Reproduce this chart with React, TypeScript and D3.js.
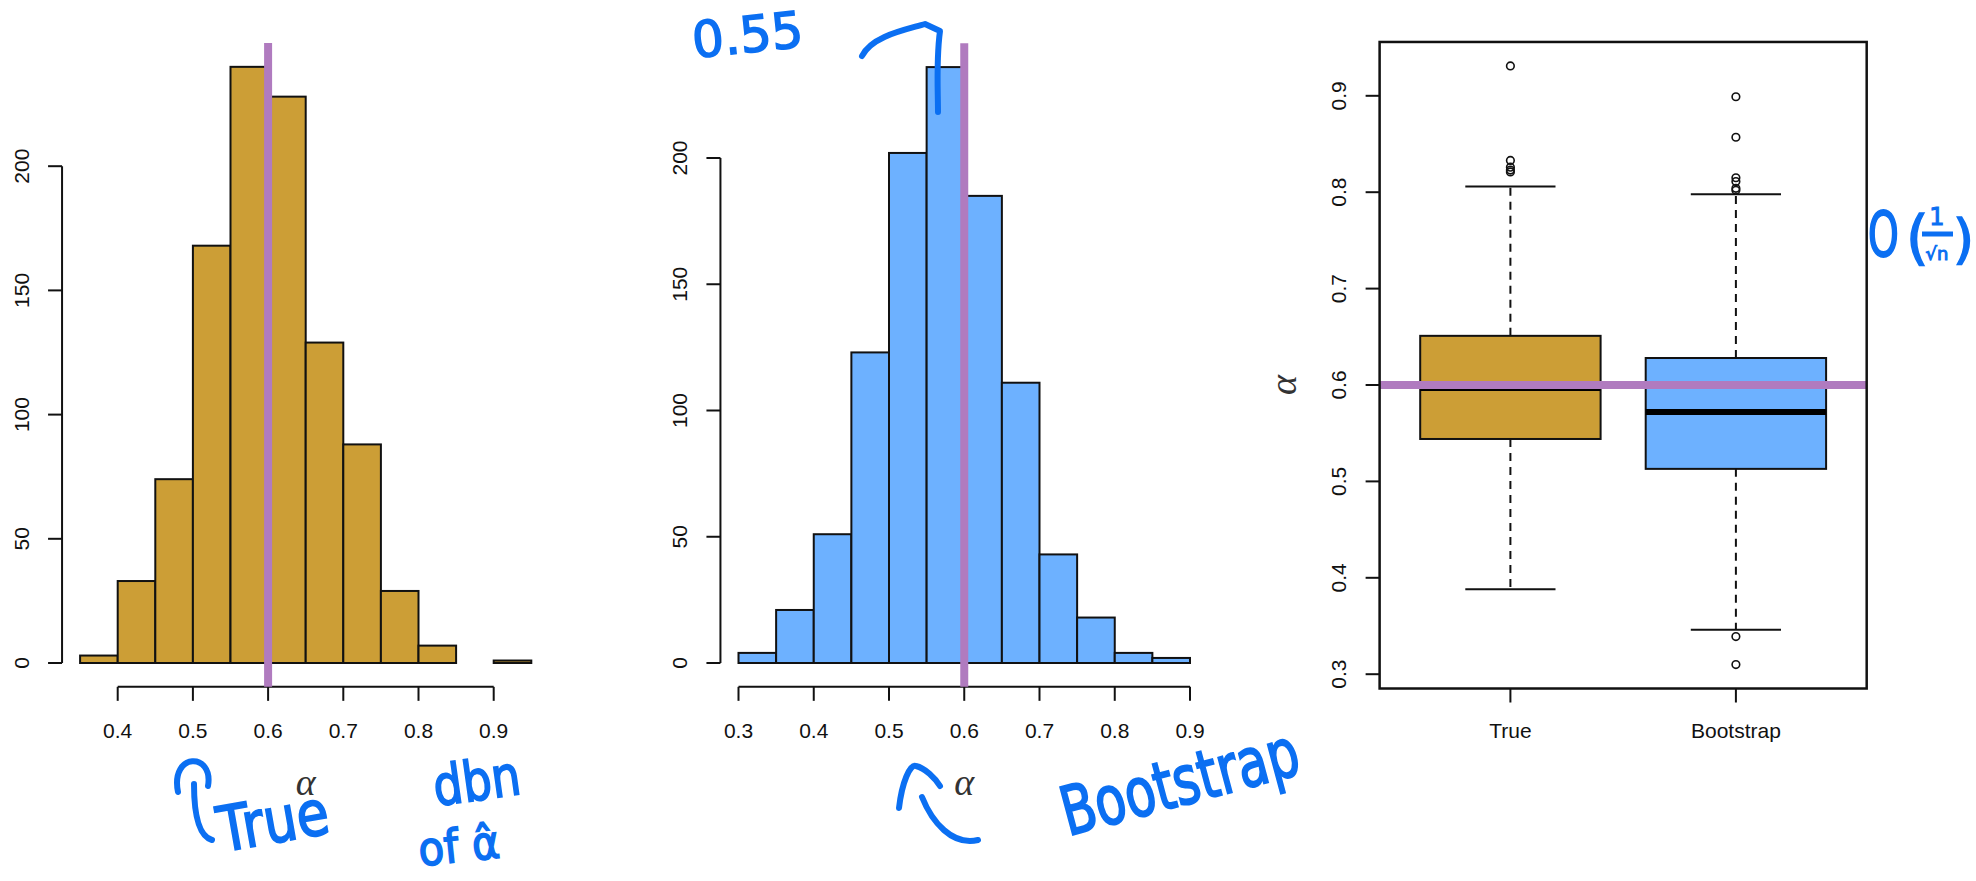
import React from "react";
import * as d3 from "d3";

// ---------- data ----------
const edgesTrue = [0.35, 0.4, 0.45, 0.5, 0.55, 0.6, 0.65, 0.7, 0.75, 0.8, 0.85, 0.9, 0.95];
const countsTrue = [3, 33, 74, 168, 240, 228, 129, 88, 29, 7, 0, 1];
const edgesBoot = [0.3, 0.35, 0.4, 0.45, 0.5, 0.55, 0.6, 0.65, 0.7, 0.75, 0.8, 0.85, 0.9];
const countsBoot = [4, 21, 51, 123, 202, 236, 185, 111, 43, 18, 4, 2];

const ticksTrueX = [0.4, 0.5, 0.6, 0.7, 0.8, 0.9];
const ticksBootX = [0.3, 0.4, 0.5, 0.6, 0.7, 0.8, 0.9];
const countTicks = [0, 50, 100, 150, 200];

const boxCategories = ["True", "Bootstrap"];
const boxQ1 = [0.544, 0.513];
const boxMedian = [0.597, 0.572];
const boxQ3 = [0.651, 0.628];
const whiskerLow = [0.388, 0.346];
const whiskerHigh = [0.806, 0.798];
const outliersTrue = [0.931, 0.833, 0.826, 0.823, 0.821];
const outliersBoot = [0.899, 0.857, 0.815, 0.811, 0.804, 0.802, 0.339, 0.31];
const boxTicks = [0.3, 0.4, 0.5, 0.6, 0.7, 0.8, 0.9];
const trueAlpha = 0.6;

// ---------- style ----------
const GOLD = "#CC9E36";
const BLUE = "#6DB1FF";
const PURPLE = "#B07BBF";
const INK = "#0B6FF2";
const SANS = "'Liberation Sans', Arial, Helvetica, sans-serif";
const SERIF = "'Liberation Serif', 'DejaVu Serif', serif";

function Histogram({ edges, counts, xTicks, x, y, fill }) {
  const maxC = d3.max(counts);
  const top = y(maxC * 1.04);
  const bottom = y(-maxC * 0.04);
  const lo = edges[0], hi = edges[edges.length - 1];
  const ext = (hi - lo) * 0.04;
  const left = x(lo - ext);
  const mid = x((lo + hi) / 2);
  return (
    <g>
      {counts.map((c, i) => (
        <rect key={i} x={x(edges[i])} y={y(c)} width={x(edges[i + 1]) - x(edges[i])} height={y(0) - y(c)}
          fill={fill} stroke="#111" strokeWidth={2} />
      ))}
      {/* x axis */}
      <line x1={x(xTicks[0])} x2={x(xTicks[xTicks.length - 1])} y1={bottom} y2={bottom} stroke="#111" strokeWidth={2} />
      {xTicks.map((t) => (
        <g key={t}>
          <line x1={x(t)} x2={x(t)} y1={bottom} y2={bottom + 14} stroke="#111" strokeWidth={2} />
          <text x={x(t)} y={730} textAnchor="middle" dominantBaseline="central" fontFamily={SANS} fontSize={21} fill="#111">{t.toFixed(1)}</text>
        </g>
      ))}
      {/* y axis */}
      <line x1={left} x2={left} y1={y(countTicks[0])} y2={y(countTicks[countTicks.length - 1])} stroke="#111" strokeWidth={2} />
      {countTicks.map((t) => (
        <g key={t}>
          <line x1={left - 14} x2={left} y1={y(t)} y2={y(t)} stroke="#111" strokeWidth={2} />
          <text transform={`translate(${left - 41},${y(t)}) rotate(-90)`} textAnchor="middle" dominantBaseline="central"
            fontFamily={SANS} fontSize={21} fill="#111">{t}</text>
        </g>
      ))}
      {/* true alpha */}
      <line x1={x(trueAlpha)} x2={x(trueAlpha)} y1={top} y2={bottom} stroke={PURPLE} strokeWidth={8} />
      <text x={mid} y={782} textAnchor="middle" dominantBaseline="central" fontFamily={SERIF} fontStyle="italic" fontSize={38} fill="#333">α</text>
    </g>
  );
}

function BoxPlot() {
  const y = d3.scaleLinear().domain([0.3, 0.9]).range([674.2, 95.8]);
  const x = d3.scaleLinear().domain([1, 2]).range([1510.4, 1735.9]);
  const all = [...outliersTrue, ...outliersBoot, ...whiskerLow, ...whiskerHigh];
  const mn = d3.min(all), mx = d3.max(all);
  const ext = (mx - mn) * 0.04;
  const top = y(mx + ext), bottom = y(mn - ext);
  const left = x(0.42), right = x(2.58);
  const fills = [GOLD, BLUE];
  const outs = [outliersTrue, outliersBoot];
  return (
    <g>
      {boxCategories.map((c, i) => {
        const cx = x(i + 1);
        const bw = x(1.4) - x(1);
        const sw = x(1.2) - x(1);
        return (
          <g key={c}>
            <line x1={cx} x2={cx} y1={y(boxQ3[i])} y2={y(whiskerHigh[i])} stroke="#111" strokeWidth={2} strokeDasharray="8 6" />
            <line x1={cx} x2={cx} y1={y(boxQ1[i])} y2={y(whiskerLow[i])} stroke="#111" strokeWidth={2} strokeDasharray="8 6" />
            <line x1={cx - sw} x2={cx + sw} y1={y(whiskerHigh[i])} y2={y(whiskerHigh[i])} stroke="#111" strokeWidth={2} />
            <line x1={cx - sw} x2={cx + sw} y1={y(whiskerLow[i])} y2={y(whiskerLow[i])} stroke="#111" strokeWidth={2} />
            <rect x={cx - bw} y={y(boxQ3[i])} width={bw * 2} height={y(boxQ1[i]) - y(boxQ3[i])} fill={fills[i]} stroke="#111" strokeWidth={2} />
            <line x1={cx - bw} x2={cx + bw} y1={y(boxMedian[i])} y2={y(boxMedian[i])} stroke="#000" strokeWidth={6} />
            {outs[i].map((o, j) => (
              <circle key={j} cx={cx} cy={y(o)} r={3.8} fill="none" stroke="#111" strokeWidth={1.6} />
            ))}
            <line x1={cx} x2={cx} y1={bottom} y2={bottom + 14} stroke="#111" strokeWidth={2} />
            <text x={cx} y={730} textAnchor="middle" dominantBaseline="central" fontFamily={SANS} fontSize={21} fill="#111">{c}</text>
          </g>
        );
      })}
      <line x1={left} x2={right} y1={y(trueAlpha)} y2={y(trueAlpha)} stroke={PURPLE} strokeWidth={8} />
      <rect x={left} y={top} width={right - left} height={bottom - top} fill="none" stroke="#111" strokeWidth={2.5} />
      {boxTicks.map((t) => (
        <g key={t}>
          <line x1={left - 14} x2={left} y1={y(t)} y2={y(t)} stroke="#111" strokeWidth={2} />
          <text transform={`translate(${left - 41},${y(t)}) rotate(-90)`} textAnchor="middle" dominantBaseline="central"
            fontFamily={SANS} fontSize={21} fill="#111">{t.toFixed(1)}</text>
        </g>
      ))}
      <text transform={`translate(1283,${y(0.6)}) rotate(-90)`} textAnchor="middle" dominantBaseline="central"
        fontFamily={SERIF} fontStyle="italic" fontSize={38} fill="#333">α</text>
    </g>
  );
}

function Annotations() {
  const ink = { fill: "none", stroke: INK, strokeWidth: 6, strokeLinecap: "round" as const, strokeLinejoin: "round" as const };
  const hand = { fontFamily: "'DejaVu Sans', sans-serif", fill: INK, stroke: INK, strokeWidth: 1.5 };
  return (
    <g>
      {/* left: "True dbn of alpha-hat" */}
      <path d="M 178 792 C 170 752, 214 752, 208 786" {...ink} />
      <path d="M 194 784 C 194 812, 198 836, 212 840" {...ink} />
      <text fontSize={50} transform="translate(222,852) rotate(-10) scale(1.05,1.25)" {...hand}>True</text>
      <text fontSize={46} transform="translate(436,806) rotate(-8) scale(1,1.2)" {...hand}>dbn</text>
      <text fontSize={42} transform="translate(420,866) rotate(-6) scale(1,1.1)" {...hand}>of α̂</text>
      {/* middle top "0.55" */}
      <text x={694} y={58} fontSize={50} transform="rotate(-6 694 58)" {...hand}>0.55</text>
      <path d="M 862 56 C 872 36, 905 30, 925 24 L 940 31 C 936 60, 938 90, 938 112" {...ink} />
      {/* middle bottom */}
      <path d="M 899 808 C 902 782, 910 764, 916 766 C 925 768, 935 778, 940 786" {...ink} />
      <path d="M 922 797 C 932 822, 952 846, 978 840" {...ink} />
      <text fontSize={50} transform="translate(1068,836) rotate(-15) scale(1,1.35)" {...hand}>Bootstrap</text>
      {/* right O(1/sqrt n) */}
      <text fontSize={46} transform="translate(1868,256) scale(0.85,1.35)" {...hand}>O</text>
      <text x={1906} y={258} fontSize={58} {...hand}>(</text>
      <text x={1937} y={225} fontSize={24} textAnchor="middle" {...hand} strokeWidth={1}>1</text>
      <line x1={1922} x2={1953} y1={234} y2={234} stroke={INK} strokeWidth={5} />
      <text x={1937} y={260} fontSize={18} textAnchor="middle" {...hand} strokeWidth={1}>√n</text>
      <text x={1953} y={258} fontSize={54} {...hand}>)</text>
    </g>
  );
}

export default function App() {
  const xL = d3.scaleLinear().domain([0.4, 0.9]).range([117.7, 493.7]);
  const yL = d3.scaleLinear().domain([0, 200]).range([663, 166.2]);
  const xM = d3.scaleLinear().domain([0.3, 0.9]).range([738.5, 1190]);
  const yM = d3.scaleLinear().domain([0, 200]).range([663, 158]);
  return (
    <svg width={1976} height={881} style={{ position: "absolute", left: 0, top: 0, background: "#fff" }}>
      <rect x={0} y={0} width={1976} height={881} fill="#fff" />
      <Histogram edges={edgesTrue} counts={countsTrue} xTicks={ticksTrueX} x={xL} y={yL} fill={GOLD} />
      <Histogram edges={edgesBoot} counts={countsBoot} xTicks={ticksBootX} x={xM} y={yM} fill={BLUE} />
      <BoxPlot />
      <Annotations />
    </svg>
  );
}
